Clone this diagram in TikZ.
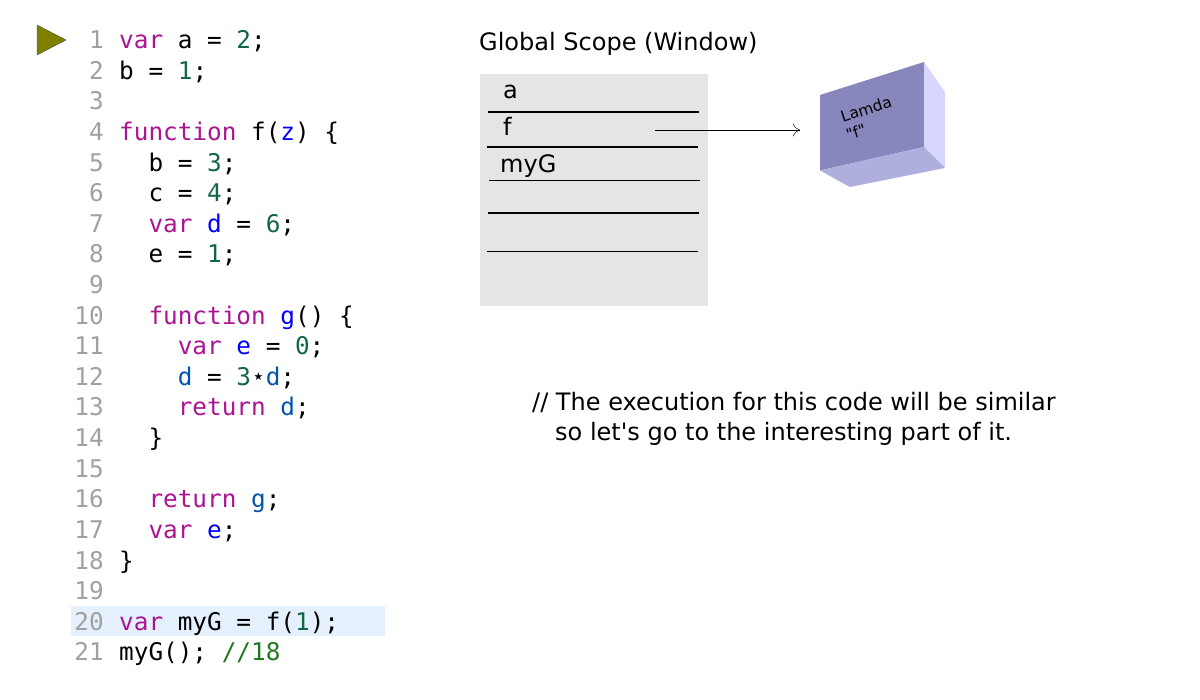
\documentclass[tikz,border=0pt]{standalone}
\usepackage{fontspec}
\setmainfont{DejaVu Sans}
\setmonofont{DejaVu Sans Mono}
\usetikzlibrary{arrows.meta}
\definecolor{cmKeyword}{RGB}{170,20,145}
\definecolor{cmDef}{RGB}{0,0,255}
\definecolor{cmVar}{RGB}{0,85,170}
\definecolor{cmNumber}{RGB}{17,102,68}
\definecolor{cmComment}{RGB}{34,119,34}
\definecolor{cmGutter}{RGB}{160,160,160}
\definecolor{cmActive}{RGB}{229,240,253}
\tikzset{
    codeline/.style={anchor=base west,inner sep=0pt,font=\fontsize{24.35}{30}\ttfamily},
    gutter/.style={anchor=base east,inner sep=0pt,text=cmGutter,font=\fontsize{24.35}{30}\ttfamily},
    label/.style={anchor=base west,inner sep=0pt,font=\fontsize{24}{30}\selectfont},
    slot/.style={line width=1.4pt},
    lamda/.style={inner sep=0pt,rotate=18,font=\fontsize{15.5}{17}\selectfont}
}
\newcommand{\KW}[1]{\textcolor{cmKeyword}{#1}}
\newcommand{\DEF}[1]{\textcolor{cmDef}{#1}}
\newcommand{\VARB}[1]{\textcolor{cmVar}{#1}}
\newcommand{\NUM}[1]{\textcolor{cmNumber}{#1}}
\begin{document}
\begin{tikzpicture}[x=1pt,y=-1pt]
    \useasboundingbox (0, 0) rectangle (1200, 700);

    % current line
    \fill[cmActive] (71, 606) rectangle (385, 636);
    \draw[black!70,fill={rgb,255:red,128;green,128;blue,0}] (37, 25) -- (66, 40) -- (37, 55) -- cycle;

    \foreach \n in {1,...,21}
        \node[gutter] (num\n) at (104, 18.2 + 30.6*\n) {\n};

    \node[codeline] (line1) at (119, 48.8) {\KW{var} a = \NUM{2};};
    \node[codeline] (line2) at (119, 79.4) {b = \NUM{1};};
    \node[codeline] (line4) at (119, 140.6) {\KW{function} f(\DEF{z}) \{};
    \node[codeline] (line5) at (148.3, 171.2) {b = \NUM{3};};
    \node[codeline] (line6) at (148.3, 201.8) {c = \NUM{4};};
    \node[codeline] (line7) at (148.3, 232.4) {\KW{var} \DEF{d} = \NUM{6};};
    \node[codeline] (line8) at (148.3, 263) {e = \NUM{1};};
    \node[codeline] (line10) at (148.3, 324.2) {\KW{function} \DEF{g}() \{};
    \node[codeline] (line11) at (177.6, 354.8) {\KW{var} \DEF{e} = \NUM{0};};
    \node[codeline] (line12) at (177.6, 385.4) {\VARB{d} = \NUM{3}⋆\VARB{d};};
    \node[codeline] (line13) at (177.6, 416) {\KW{return} \VARB{d};};
    \node[codeline] (line14) at (148.3, 446.6) {\}};
    \node[codeline] (line16) at (148.3, 507.8) {\KW{return} \VARB{g};};
    \node[codeline] (line17) at (148.3, 538.4) {\KW{var} \DEF{e};};
    \node[codeline] (line18) at (119, 569) {\}};
    \node[codeline] (line20) at (119, 630.2) {\KW{var} myG = f(\NUM{1});};
    \node[codeline] (line21) at (119, 660.8) {myG(); \textcolor{cmComment}{//18}};

    % global scope
    \node[label] (scopeTitle) at (479, 51) {Global Scope (Window)};
    \fill[black!10] (480, 74) rectangle (708, 306);
    \draw[slot] (488, 112) -- (699, 112);
    \draw[slot] (487, 147) -- (698, 147);
    \draw[slot] (489, 180.5) -- (700, 180.5);
    \draw[slot] (488, 213) -- (699, 213);
    \draw[slot] (487, 251.5) -- (698, 251.5);
    \node[label] (slotA) at (503, 99) {a};
    \node[label] (slotF) at (503, 136) {f};
    \node[label] (slotMyG) at (500, 172.5) {myG};

    % lambda box
    \fill[fill={rgb,255:red,135;green,135;blue,189}] (820, 95) -- (924, 62) -- (924, 147) -- (820, 170.5) -- cycle;
    \fill[fill={rgb,255:red,214;green,214;blue,254}] (924, 62) -- (945, 92) -- (945, 168) -- (924, 147) -- cycle;
    \fill[fill={rgb,255:red,175;green,175;blue,221}] (820, 170.5) -- (924, 147) -- (945, 168) -- (850, 187) -- cycle;
    \node[lamda] (lamdaName) at (866, 109) {Lamda};
    \node[lamda] (lamdaF) at (856, 132) {\textquotedbl f\textquotedbl};

    \coordinate (fRef) at (655, 130);
    \coordinate (fTarget) at (800, 130);
    \draw[-{To[length=7pt,width=13pt]}] (fRef) -- (fTarget);

    \node[label] (noteA) at (532, 411) {// The execution for this code will be similar};
    \node[label] (noteB) at (555, 441) {so let\textquotesingle s go to the interesting part of it.};
\end{tikzpicture}
\end{document}
